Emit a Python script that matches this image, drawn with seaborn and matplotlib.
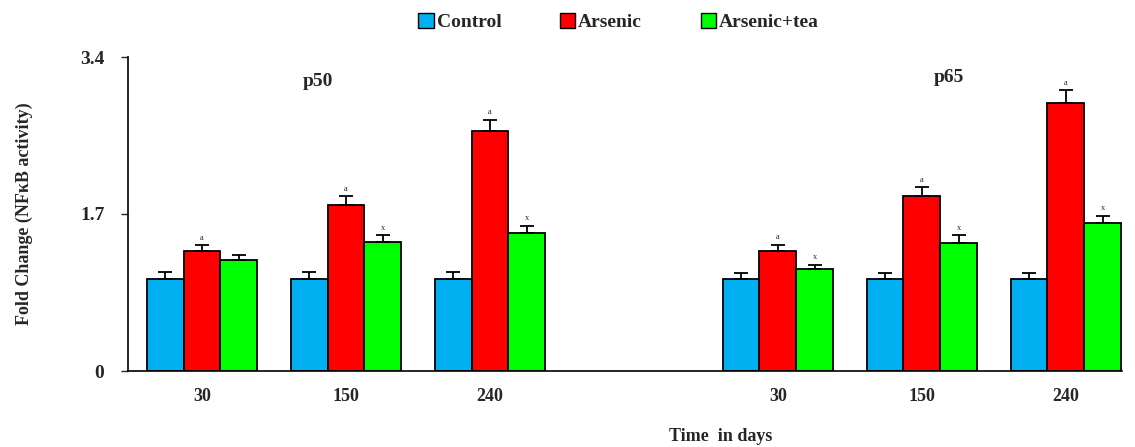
import numpy as np
import pandas as pd
import matplotlib
matplotlib.use("Agg")
import matplotlib.pyplot as plt
import seaborn as sns
from matplotlib.patches import Patch

# ---- data ----
days = ["30", "150", "240"]
proteins = ["p50", "p65"]
treatments = ["Control", "Arsenic", "Arsenic+tea"]
p50_control = [1.00, 1.00, 1.00]
p50_arsenic = [1.30, 1.80, 2.60]
p50_tea = [1.20, 1.40, 1.49]
p65_control = [1.00, 1.00, 1.00]
p65_arsenic = [1.30, 1.89, 2.90]
p65_tea = [1.10, 1.39, 1.60]
p50_control_err = [0.07, 0.07, 0.07]
p50_arsenic_err = [0.06, 0.09, 0.12]
p50_tea_err = [0.06, 0.07, 0.08]
p65_control_err = [0.06, 0.06, 0.06]
p65_arsenic_err = [0.065, 0.10, 0.14]
p65_tea_err = [0.05, 0.08, 0.08]
p50_arsenic_mark = ["a", "a", "a"]
p50_tea_mark = ["", "x", "x"]
p65_arsenic_mark = ["a", "a", "a"]
p65_tea_mark = ["x", "x", "x"]
colors = ["#00B0F0", "#FF0000", "#00FF00"]

series = {
    ("p50", "Control"): (p50_control, p50_control_err, ["", "", ""]),
    ("p50", "Arsenic"): (p50_arsenic, p50_arsenic_err, p50_arsenic_mark),
    ("p50", "Arsenic+tea"): (p50_tea, p50_tea_err, p50_tea_mark),
    ("p65", "Control"): (p65_control, p65_control_err, ["", "", ""]),
    ("p65", "Arsenic"): (p65_arsenic, p65_arsenic_err, p65_arsenic_mark),
    ("p65", "Arsenic+tea"): (p65_tea, p65_tea_err, p65_tea_mark),
}

slots = [f"{p}_{d}" for p in proteins[:1] for d in days] + ["gap"] + \
        [f"{p}_{d}" for p in proteins[1:] for d in days]
rows = []
for (p, t), (vals, errs, marks) in series.items():
    for d, v, e, m in zip(days, vals, errs, marks):
        rows.append(dict(slot=f"{p}_{d}", treatment=t, value=v, err=e, mark=m))
df = pd.DataFrame(rows)

sns.set_style("ticks")
plt.rcParams["font.family"] = ["Liberation Serif", "DejaVu Serif"]
plt.rcParams["font.weight"] = "bold"

fig = plt.figure(figsize=(11.35, 4.47), dpi=100)
ax = fig.add_axes([128 / 1135, 1 - 371 / 447, (1122 - 128) / 1135, (371 - 57) / 447])

sns.barplot(data=df, x="slot", y="value", hue="treatment", order=slots,
            hue_order=treatments, palette=colors, width=0.768, dodge=True,
            edgecolor="black", linewidth=1.3, errorbar=None, legend=False, ax=ax,
            saturation=1)

lookup = {(r.slot, r.treatment): r for r in df.itertuples()}
for t, cont in zip(treatments, ax.containers):
    for bar in cont:
        h = bar.get_height()
        if not np.isfinite(h) or h == 0:
            continue
        xc = bar.get_x() + bar.get_width() / 2
        slot = slots[int(round(xc))]
        r = lookup[(slot, t)]
        ax.errorbar([xc], [h], yerr=[[0], [r.err]], fmt="none", ecolor="black",
                    elinewidth=1.3, capsize=5, capthick=1.3, zorder=5)
        if r.mark:
            ax.text(xc, h + r.err + 0.04, r.mark, ha="center", va="bottom",
                    fontsize=6, fontweight="normal")

ax.set_ylim(0, 3.4)
ax.set_xlim(-0.514, 6.39)
ax.set_yticks([0, 1.7, 3.4])
ax.set_yticklabels(["0", "1.7", "3.4"], fontsize=14, fontweight="bold")
tick_labels = [s.split("_")[1] if s != "gap" else "" for s in slots]
ax.set_xticks(range(len(slots)))
ax.set_xticklabels(tick_labels, fontsize=13, fontweight="bold")
ax.tick_params(axis="x", length=0, pad=12)
ax.tick_params(axis="y", length=5, width=1, direction="out", pad=12)
for s in ["top", "right"]:
    ax.spines[s].set_visible(False)
for s in ["left", "bottom"]:
    ax.spines[s].set_linewidth(1.2)
    ax.spines[s].set_color("black")

ax.set_xlabel("Time  in days", fontsize=13, fontweight="bold")
ax.xaxis.set_label_coords(0.596, -0.18)
ax.set_ylabel("Fold Change (NF\u03baB activity)", fontsize=13, fontweight="bold", labelpad=34)

ax.text(0.806, 3.13, proteins[0], ha="center", va="center", fontsize=14, fontweight="bold")
ax.text(5.19, 3.18, proteins[1], ha="center", va="center", fontsize=14, fontweight="bold")

handles = [Patch(facecolor=c, edgecolor="black", linewidth=1.0, label=t)
           for c, t in zip(colors, treatments)]
fig.legend(handles=handles, loc="upper center", bbox_to_anchor=(0.545, 1.01), ncol=3,
           frameon=False, handlelength=0.8, handleheight=0.8, handletextpad=0.15,
           columnspacing=3.0, prop={"weight": "bold", "size": 14})

fig.savefig("out.png", dpi=100)
